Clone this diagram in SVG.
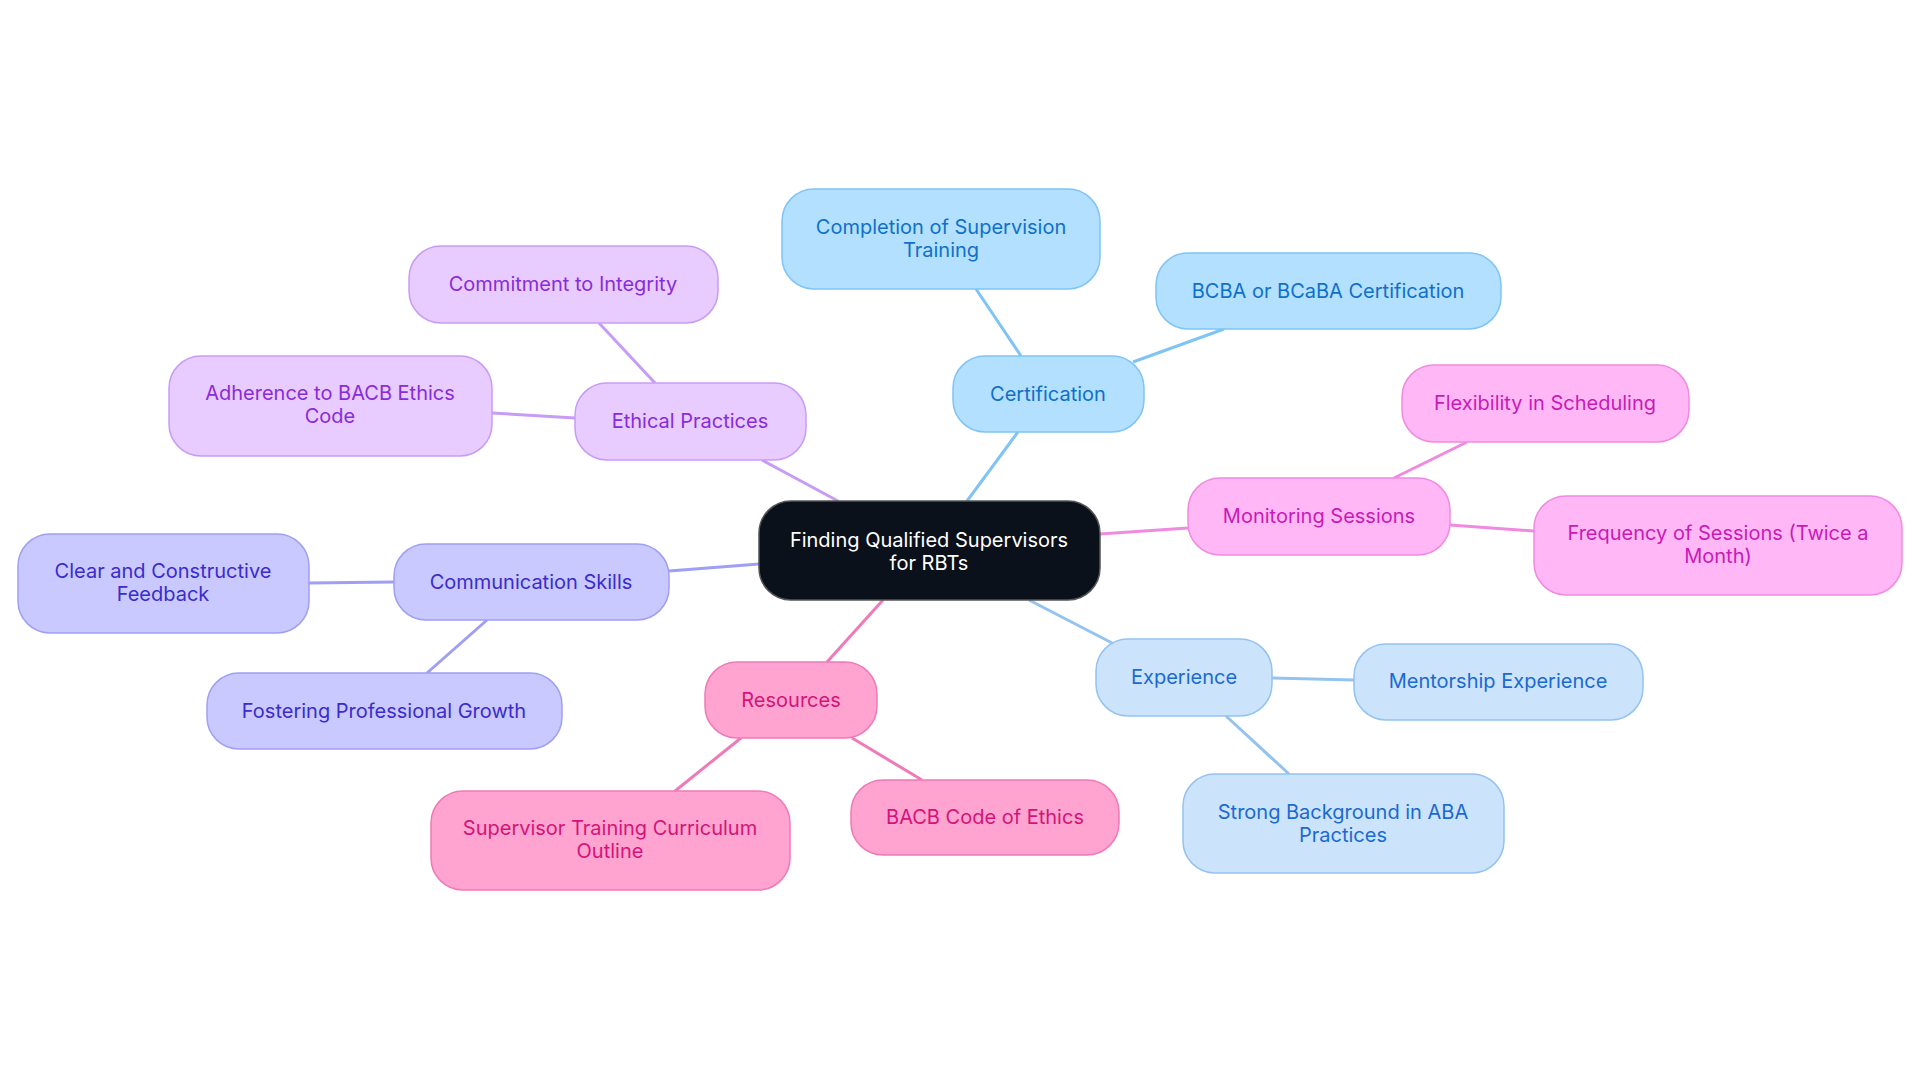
<svg xmlns="http://www.w3.org/2000/svg" width="1920" height="1083" viewBox="0 0 1920 1083">
<style>
text{font-family:Inter,"Noto Sans",sans-serif;font-size:20px;text-anchor:middle;dominant-baseline:central}
rect{stroke-width:1.5}
.c rect{fill:#0b111b;stroke:#555}.c text{fill:#fff}
.b rect{fill:#b3e0ff;stroke:#7fc4f5}.b text{fill:#1070c8}
.p rect{fill:#e8ccff;stroke:#c79cf5}.p text{fill:#8a2bd8}
.i rect{fill:#c9c9ff;stroke:#9f9ff5}.i text{fill:#3a2ccc}
.r rect{fill:#ffa3d0;stroke:#f07ab8}.r text{fill:#d4137a}
.l rect{fill:#cce3fc;stroke:#94c3f0}.l text{fill:#1a6ad0}
.m rect{fill:#ffb8f5;stroke:#f08ae0}.m text{fill:#c81ab8}
#edges line{stroke-width:3}
</style>
<rect width="1920" height="1083" fill="#fff"/>
<g id="edges">
<line x1="967" y1="501" x2="1018" y2="432" stroke="#7fc4f5"/>
<line x1="1021" y1="356" x2="976" y2="289" stroke="#7fc4f5"/>
<line x1="1133" y1="362" x2="1224" y2="329" stroke="#7fc4f5"/>
<line x1="838" y1="501" x2="762" y2="460" stroke="#c79cf5"/>
<line x1="655" y1="383" x2="599" y2="323" stroke="#c79cf5"/>
<line x1="575" y1="418" x2="492" y2="413" stroke="#c79cf5"/>
<line x1="759" y1="564" x2="669" y2="571" stroke="#9f9ff5"/>
<line x1="394" y1="582" x2="309" y2="583" stroke="#9f9ff5"/>
<line x1="487" y1="620" x2="427" y2="673" stroke="#9f9ff5"/>
<line x1="883" y1="600" x2="827" y2="662" stroke="#f07ab8"/>
<line x1="741" y1="738" x2="675" y2="791" stroke="#f07ab8"/>
<line x1="852" y1="738" x2="922" y2="780" stroke="#f07ab8"/>
<line x1="1029" y1="600" x2="1114" y2="644" stroke="#94c3f0"/>
<line x1="1272" y1="678" x2="1354" y2="680" stroke="#94c3f0"/>
<line x1="1226" y1="716" x2="1289" y2="774" stroke="#94c3f0"/>
<line x1="1100" y1="534" x2="1188" y2="528" stroke="#f08ae0"/>
<line x1="1394" y1="478" x2="1467" y2="442" stroke="#f08ae0"/>
<line x1="1450" y1="525" x2="1534" y2="531" stroke="#f08ae0"/>
</g>
<g id="center" class="c"><rect x="759" y="501" width="341" height="99" rx="32"/><text x="929" y="540">Finding Qualified Supervisors</text><text x="929" y="563">for RBTs</text></g>
<g id="cert" class="b"><rect x="953" y="356" width="191" height="76" rx="32"/><text x="1048" y="394">Certification</text></g>
<g id="completion" class="b"><rect x="782" y="189" width="318" height="100" rx="32"/><text x="941" y="227">Completion of Supervision</text><text x="941" y="250">Training</text></g>
<g id="bcba" class="b"><rect x="1156" y="253" width="345" height="76" rx="32"/><text x="1328" y="291">BCBA or BCaBA Certification</text></g>
<g id="ethical" class="p"><rect x="575" y="383" width="231" height="77" rx="32"/><text x="690" y="421">Ethical Practices</text></g>
<g id="commit" class="p"><rect x="409" y="246" width="309" height="77" rx="32"/><text x="563" y="284">Commitment to Integrity</text></g>
<g id="adher" class="p"><rect x="169" y="356" width="323" height="100" rx="32"/><text x="330" y="393">Adherence to BACB Ethics</text><text x="330" y="416">Code</text></g>
<g id="comm" class="i"><rect x="394" y="544" width="275" height="76" rx="32"/><text x="531" y="582">Communication Skills</text></g>
<g id="clear" class="i"><rect x="18" y="534" width="291" height="99" rx="32"/><text x="163" y="571">Clear and Constructive</text><text x="163" y="594">Feedback</text></g>
<g id="foster" class="i"><rect x="207" y="673" width="355" height="76" rx="32"/><text x="384" y="711">Fostering Professional Growth</text></g>
<g id="res" class="r"><rect x="705" y="662" width="172" height="76" rx="32"/><text x="791" y="700">Resources</text></g>
<g id="sup" class="r"><rect x="431" y="791" width="359" height="99" rx="32"/><text x="610" y="828">Supervisor Training Curriculum</text><text x="610" y="851">Outline</text></g>
<g id="bacb" class="r"><rect x="851" y="780" width="268" height="75" rx="32"/><text x="985" y="817">BACB Code of Ethics</text></g>
<g id="exp" class="l"><rect x="1096" y="639" width="176" height="77" rx="32"/><text x="1184" y="677">Experience</text></g>
<g id="mentor" class="l"><rect x="1354" y="644" width="289" height="76" rx="32"/><text x="1498" y="681">Mentorship Experience</text></g>
<g id="strong" class="l"><rect x="1183" y="774" width="321" height="99" rx="32"/><text x="1343" y="812">Strong Background in ABA</text><text x="1343" y="835">Practices</text></g>
<g id="mon" class="m"><rect x="1188" y="478" width="262" height="77" rx="32"/><text x="1319" y="516">Monitoring Sessions</text></g>
<g id="flex" class="m"><rect x="1402" y="365" width="287" height="77" rx="32"/><text x="1545" y="403">Flexibility in Scheduling</text></g>
<g id="freq" class="m"><rect x="1534" y="496" width="368" height="99" rx="32"/><text x="1718" y="533">Frequency of Sessions (Twice a</text><text x="1718" y="556">Month)</text></g>
</svg>
